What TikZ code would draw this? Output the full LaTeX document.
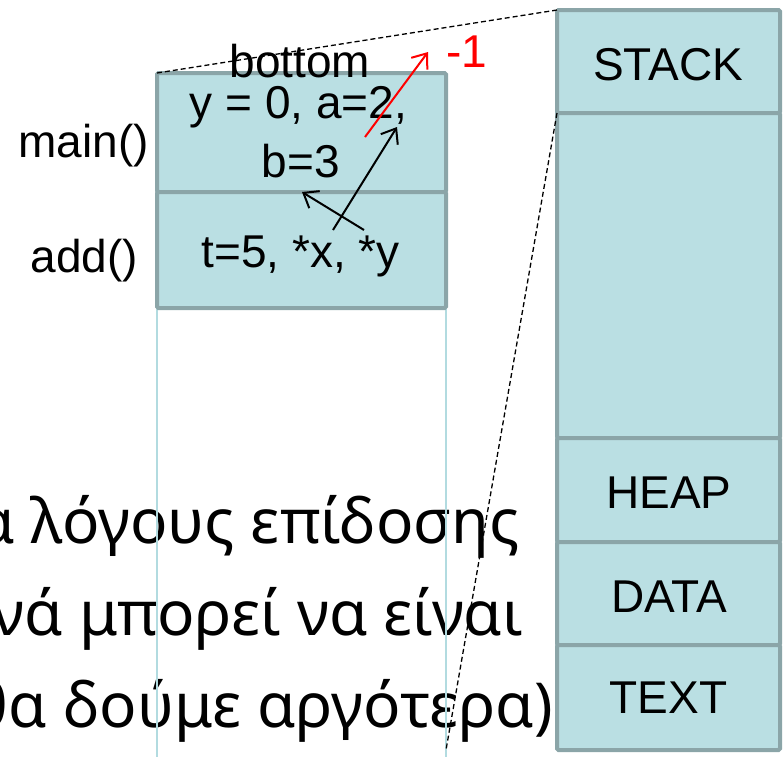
\documentclass[tikz,border=0pt]{standalone}
\usepackage{fontspec}
\setmainfont{Liberation Sans}
\newfontfamily\bodyfont{Noto Sans}
\usetikzlibrary{arrows.meta}
\definecolor{segfill}{RGB}{186,223,227}
\definecolor{segline}{RGB}{139,165,168}
\definecolor{guide}{RGB}{178,219,224}
\begin{document}
\begin{tikzpicture}[x=1pt,y=-1pt,
  seg/.style={draw=segline, line width=4pt, fill=segfill, outer sep=0pt, inner sep=0pt, rounded corners=1.5pt},
  lbl/.style={font=\fontsize{46}{50}\selectfont, inner sep=0pt, anchor=base},
  body/.style={font=\bodyfont\fontsize{62}{70}\selectfont, inner sep=0pt, anchor=base east},
  zoomline/.style={line width=1.3pt, dash pattern=on 5pt off 3pt},
  ptr/.style={line width=2pt, -{Straight Barb[length=13pt,width=20pt]}}]
\useasboundingbox (0,0) rectangle (784,756);
\clip (0,0) rectangle (784,756);

% body text of the slide
\node[body] (t1) at (520,543) {α λόγους επίδοσης};
\node[body] (t2) at (523,635) {ονά μπορεί να είναι};
\node[body] (t3) at (553,727) {θα δούμε αργότερα)};

% outline of the enlarged stack region
\draw[guide, line width=1.5pt] (157,73) -- (157,760);
\draw[guide, line width=1.5pt] (446,73) -- (446,760);

% memory layout column
\node[seg, minimum width=223pt, minimum height=103pt, anchor=north west] (stack) at (557,10) {};
\node[seg, minimum width=223pt, minimum height=325pt, anchor=north west] (free) at (557,113) {};
\node[seg, minimum width=223pt, minimum height=104pt, anchor=north west] (heap) at (557,438) {};
\node[seg, minimum width=223pt, minimum height=103pt, anchor=north west] (data) at (557,542) {};
\node[seg, minimum width=223pt, minimum height=105pt, anchor=north west] (textseg) at (557,645) {};
\node[lbl] (stackl) at (668,80) {STACK};
\node[lbl] (heapl) at (669,508) {HEAP};
\node[lbl] (datal) at (669,612) {DATA};
\node[lbl] (textl) at (668.5,713) {TEXT};

% stack frames
\node[seg, minimum width=289pt, minimum height=119pt, anchor=north west] (mainf) at (157,73) {};
\node[seg, minimum width=289pt, minimum height=116pt, anchor=north west] (addf) at (157,192) {};
\node[lbl] (mainv1) at (298.5,118) {y = 0, a=2,};
\node[lbl] (mainv2) at (301,177) {b=3};
\node[lbl] (addv) at (300.5,267) {t=5, *x, *y};
\node[lbl] (mainn) at (83.5,157) {main()};
\node[lbl] (addn) at (84.5,272) {add()};
\node[lbl] (bottom) at (300,77) {bottom};
\node[lbl, text=red] (minus) at (466.5,67) {-1};

% zoom lines from the stack segment to the frames
\coordinate (zb) at (446,750);
\draw[zoomline] (mainf.north west) -- (stack.north west);
\draw[zoomline] (stack.south west) -- (zb);

% pointers
\coordinate (xs) at (333,230);
\coordinate (xt) at (397,127);
\coordinate (ys) at (364,230);
\coordinate (yt) at (302,192);
\coordinate (rs) at (365,137);
\coordinate (rt) at (428,52);
\draw[ptr] (xs) -- (xt);
\draw[ptr] (ys) -- (yt);
\draw[ptr, red] (rs) -- (rt);
\end{tikzpicture}
\end{document}
